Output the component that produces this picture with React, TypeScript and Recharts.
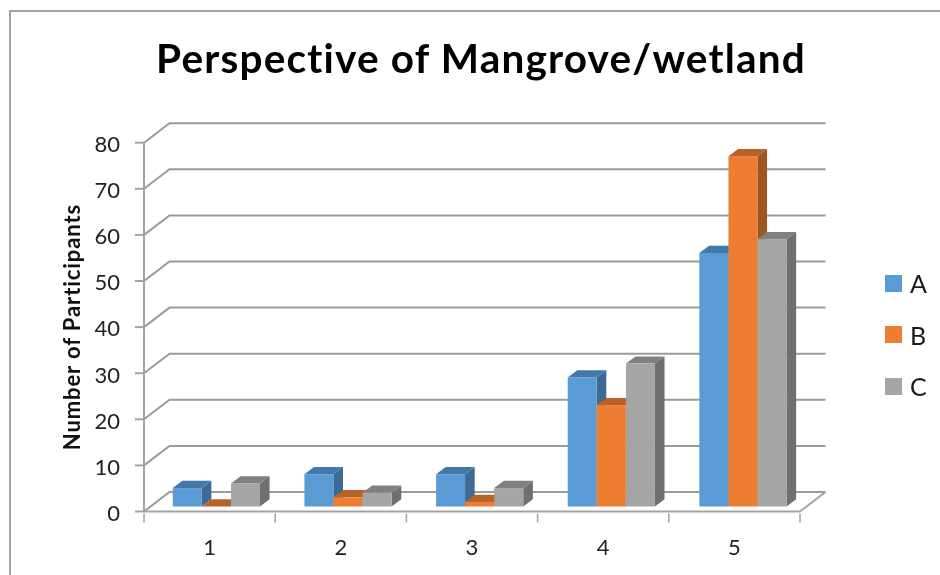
import { BarChart, Bar, XAxis, YAxis, CartesianGrid, Legend } from 'recharts';

const CATEGORIES = ['1', '2', '3', '4', '5'];
const SERIES_A = [4, 7, 7, 28, 55];
const SERIES_B = [0, 2, 1, 22, 76];
const SERIES_C = [5, 3, 4, 31, 58];
const Y_TICKS = [0, 10, 20, 30, 40, 50, 60, 70, 80];

const rows = CATEGORIES.map((name, i) => ({
  name,
  A: SERIES_A[i],
  B: SERIES_B[i],
  C: SERIES_C[i],
}));

const WIDTH = 940;
const HEIGHT = 575;
const MARGIN = { top: 142.7, right: 140, bottom: 0, left: 0 };
const BAND = (WIDTH - 144 - MARGIN.right) / CATEGORIES.length;

const FONT = 'Lato, Carlito, Calibri, sans-serif';
const AXIS_GRAY = '#a3a3a3';
const GRID_GRAY = '#9b9b9b';

// the "3d" look: back wall offset and the bars' own depth
const WALL_DX = 25.5;
const WALL_DY = 19.5;
const BAR_SHIFT_X = 7;
const BAR_SHIFT_Y = 5;
const BAR_DX = 9.6;
const BAR_DY = 7.2;
// bars sit further back than the axis, so their spacing is slightly wider
const BAR_SPREAD = 0.0034;

const SHADES: Record<string, { top: string; side: string }> = {
  '#5b9bd5': { top: '#4279a9', side: '#3c6a94' },
  '#ed7d31': { top: '#b8622a', side: '#9d5522' },
  '#a5a5a5': { top: '#808080', side: '#6f6f6f' },
};

function Bar3D({ x, y, width, height, fill }: any) {
  const left = x + BAR_SHIFT_X + (x - 166) * BAR_SPREAD;
  const top = y - BAR_SHIFT_Y;
  const right = left + width;
  const bottom = top + height;
  const shade = SHADES[fill];
  return (
    <g>
      <polygon
        points={`${right},${top} ${right + BAR_DX},${top - BAR_DY} ${right + BAR_DX},${bottom - BAR_DY} ${right},${bottom}`}
        fill={shade.side}
      />
      <polygon
        points={`${left},${top} ${right},${top} ${right + BAR_DX},${top - BAR_DY} ${left + BAR_DX},${top - BAR_DY}`}
        fill={shade.top}
      />
      <rect x={left} y={top} width={width} height={height} fill={fill} />
    </g>
  );
}

function WallLine({ x1, x2, y1, index }: any) {
  const isFloor = index === 0;
  const d = `M${x1} ${y1} L${x1 + WALL_DX} ${y1 - WALL_DY} L${x2 + WALL_DX} ${y1 - WALL_DY}`;
  return (
    <g fill="none" stroke={GRID_GRAY} strokeWidth={2}>
      <path d={d} />
      {isFloor && <path d={`M${x2} ${y1} L${x2 + WALL_DX} ${y1 - WALL_DY}`} stroke={AXIS_GRAY} />}
    </g>
  );
}

function CategoryTick({ x, y, payload, index }: any) {
  const isLast = index === CATEGORIES.length - 1;
  return (
    <g>
      <line x1={x - BAND / 2} x2={x - BAND / 2} y1={y} y2={y + 9} stroke={AXIS_GRAY} strokeWidth={1.5} />
      {isLast && <line x1={x + BAND / 2} x2={x + BAND / 2} y1={y} y2={y + 9} stroke={AXIS_GRAY} strokeWidth={1.5} />}
      <text x={x} y={y + 41.5} textAnchor="middle" fontSize={22} fontFamily={FONT} fill="#222">
        {payload.value}
      </text>
    </g>
  );
}

function LegendList({ payload }: any) {
  return (
    <div>
      {payload.map((item: any) => (
        <div key={item.value} style={{ display: 'flex', alignItems: 'center', height: 51.6 }}>
          <span style={{ width: 17, height: 17, background: item.color, marginRight: 8 }} />
          <span style={{ fontSize: 25, fontFamily: FONT, color: '#1a1a1a' }}>{item.value}</span>
        </div>
      ))}
    </div>
  );
}

export default function App() {
  return (
    <div
      style={{
        position: 'absolute',
        left: 0,
        top: 0,
        width: WIDTH,
        height: HEIGHT,
        overflow: 'hidden',
        background: '#fff',
        filter: 'blur(0.4px)',
      }}
    >
      <div
        style={{
          position: 'absolute',
          left: 9,
          top: 10,
          width: WIDTH,
          height: HEIGHT,
          borderLeft: `2px solid ${AXIS_GRAY}`,
          borderTop: `2px solid ${AXIS_GRAY}`,
        }}
      />
      <div style={{ position: 'absolute', left: 0, top: 0 }}>
        <BarChart width={WIDTH} height={HEIGHT} data={rows} margin={MARGIN} barCategoryGap="16.6%" barGap={0}>
          <text
            x={481}
            y={73}
            textAnchor="middle"
            fontSize={40.5}
            fontWeight={700}
            letterSpacing={1.2}
            fontFamily={FONT}
            fill="#000"
          >
            Perspective of Mangrove/wetland
          </text>
          <CartesianGrid horizontal={WallLine} vertical={false} />
          <XAxis
            dataKey="name"
            height={63.5}
            interval={0}
            stroke={AXIS_GRAY}
            strokeWidth={2}
            tickSize={0}
            tickLine={false}
            tick={CategoryTick}
          />
          <YAxis
            width={144}
            domain={[0, 80]}
            ticks={Y_TICKS}
            interval={0}
            stroke={AXIS_GRAY}
            strokeWidth={2}
            tickSize={9}
            tickMargin={15}
            tick={{ fontSize: 22, fontFamily: FONT, fill: '#222', dy: 1.5 }}
            label={{
              value: 'Number of Participants',
              angle: -90,
              position: 'center',
              fontSize: 22,
              fontWeight: 700,
              letterSpacing: 0.9,
              fontFamily: FONT,
              fill: '#111',
            }}
          />
          <Legend
            layout="vertical"
            align="center"
            verticalAlign="middle"
            content={LegendList}
            wrapperStyle={{ left: 885, top: 257.5, width: 55 }}
          />
          <Bar dataKey="A" fill="#5b9bd5" shape={Bar3D} isAnimationActive={false} />
          <Bar dataKey="B" fill="#ed7d31" shape={Bar3D} isAnimationActive={false} />
          <Bar dataKey="C" fill="#a5a5a5" shape={Bar3D} isAnimationActive={false} />
        </BarChart>
      </div>
    </div>
  );
}
